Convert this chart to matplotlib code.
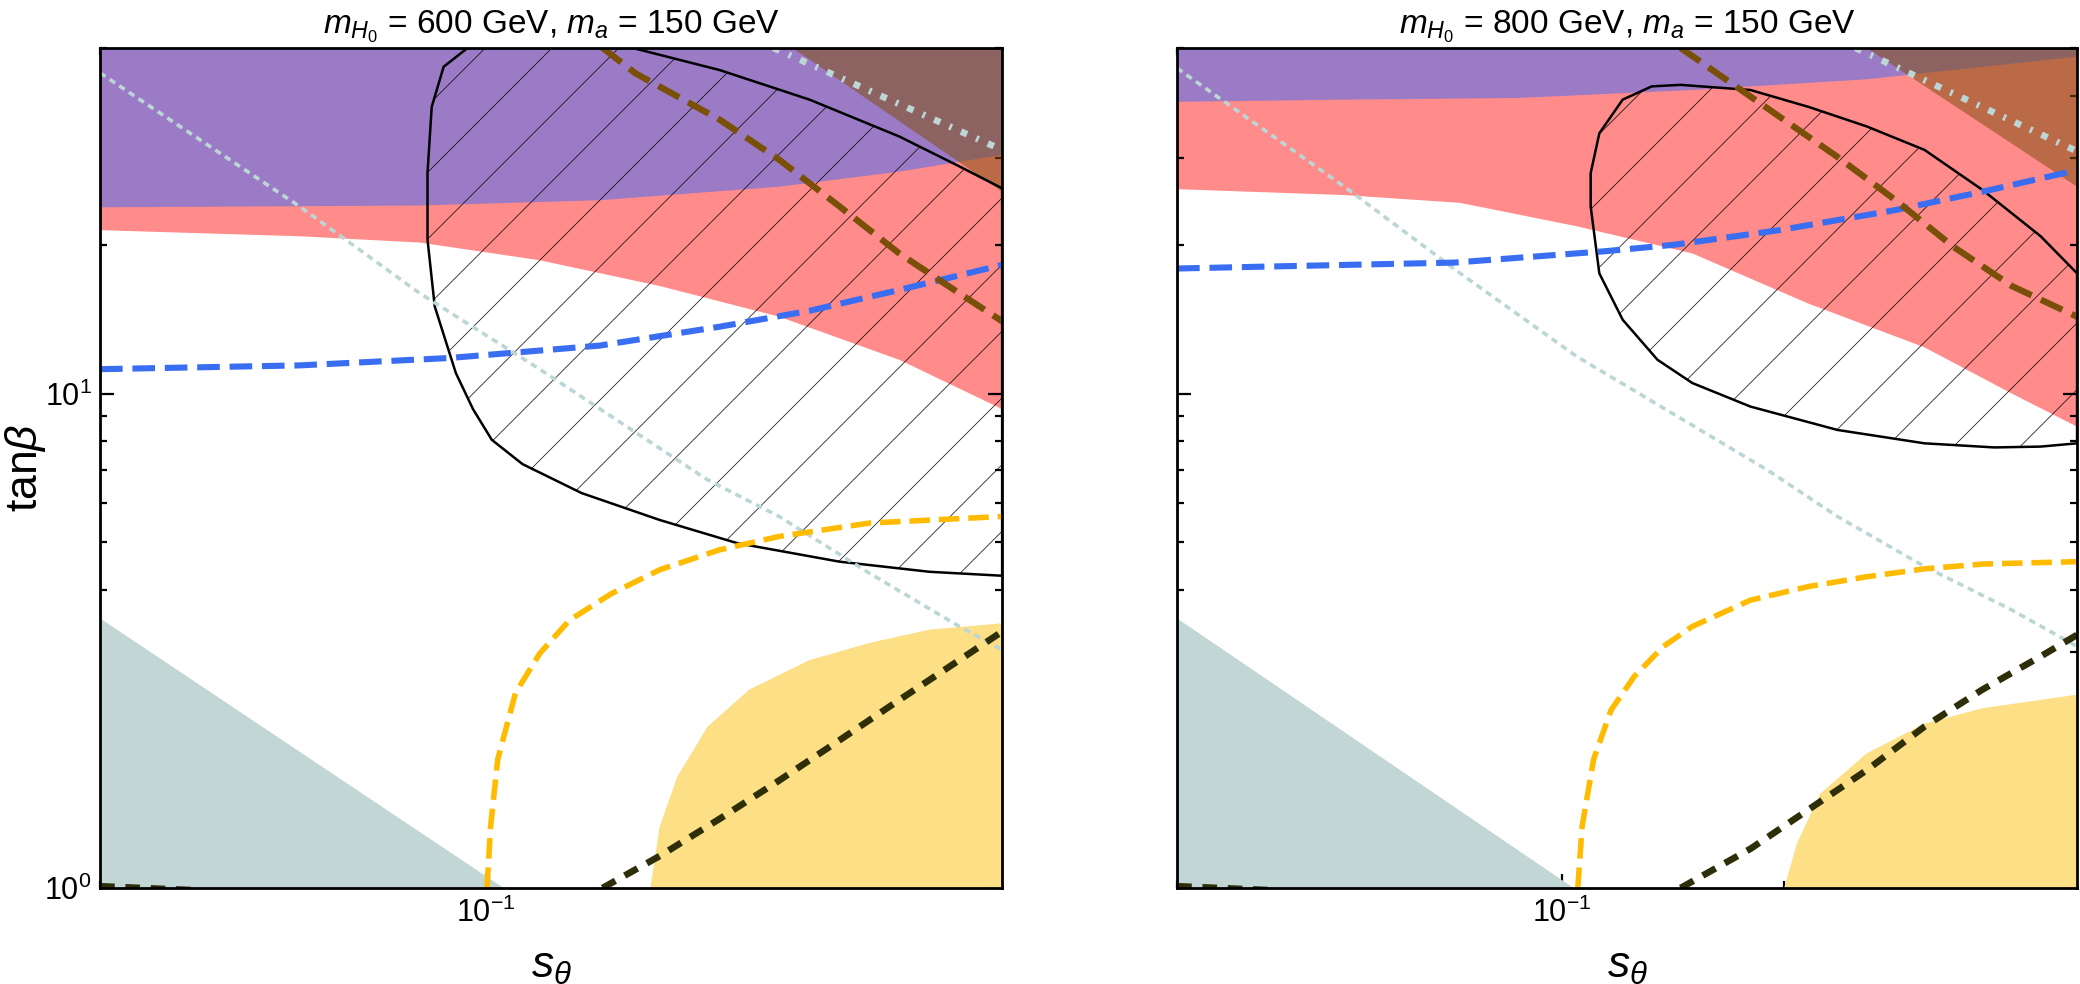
#!/usr/bin/env python3

import numpy as np
import matplotlib
matplotlib.use('Agg')
import matplotlib.pyplot as plt
from matplotlib.ticker import NullFormatter

plt.rcParams['font.family'] = ['Liberation Sans', 'DejaVu Sans']
plt.rcParams['mathtext.fontset'] = 'custom'
plt.rcParams['mathtext.rm'] = 'Liberation Sans'
plt.rcParams['mathtext.it'] = 'Liberation Sans:italic'
plt.rcParams['mathtext.bf'] = 'Liberation Sans:bold'
plt.rcParams['hatch.linewidth'] = 0.25

# Axis ranges (log-log)
x_range = (0.03, 0.5)
y_range = (1.0, 50.0)
titles = [r'$m_{H_0}$ = 600 GeV, $m_a$ = 150 GeV',
          r'$m_{H_0}$ = 800 GeV, $m_a$ = 150 GeV']

# ---- left panel: mH0 = 600 GeV, points are (s_theta, tan beta) ----
purple_600 = [(0.03, 23.8), (0.0813, 24.0), (0.1425, 24.6), (0.2495, 26.2),
              (0.3628, 28.1), (0.5, 30.4)]
red_600 = [(0.03, 21.4), (0.0559, 20.8), (0.0813, 20.2), (0.1182, 18.6),
           (0.1718, 16.5), (0.2495, 14.3), (0.3628, 11.7), (0.5, 9.3)]
brown_600 = [(0.26, 50.0), (0.5, 25.6)]
contour_600 = [(0.0944, 50.0), (0.0876, 45.8), (0.0844, 38.0), (0.0833, 27.9),
               (0.0833, 20.5), (0.0852, 15.0), (0.0910, 11.0), (0.0960, 9.3),
               (0.1018, 8.06), (0.112, 7.2), (0.1347, 6.29), (0.1718, 5.55),
               (0.219, 4.98), (0.3011, 4.57), (0.3985, 4.36), (0.5, 4.28),
               (0.5, 26.0), (0.4375, 28.8), (0.3628, 33.1), (0.2742, 39.3),
               (0.2072, 45.1), (0.1579, 50.0)]
blue_600 = [(0.03, 11.2), (0.0559, 11.4), (0.0893, 11.8), (0.1425, 12.5),
            (0.2072, 13.65), (0.2742, 14.7), (0.3628, 16.2), (0.5, 18.2)]
brownline_600 = [(0.1438, 50.0), (0.1594, 44.4), (0.2072, 35.8), (0.2495, 29.7),
                 (0.3011, 23.9), (0.3628, 19.2), (0.4375, 15.95), (0.5, 14.0)]
dotted_600 = [(0.03, 44.5), (0.0559, 23.9), (0.0813, 15.95), (0.1182, 11.2),
              (0.1995, 6.69), (0.2495, 5.64), (0.3306, 4.33), (0.4375, 3.38),
              (0.5, 3.03)]
dashdot_600 = [(0.245, 50.0), (0.5, 31.1)]
orange_600 = [(0.1003, 1.0), (0.1014, 1.33), (0.1037, 1.82), (0.1096, 2.48),
              (0.1182, 2.98), (0.1297, 3.48), (0.1479, 3.94), (0.1718, 4.40),
              (0.2072, 4.83), (0.2495, 5.14), (0.3306, 5.47), (0.5, 5.64)]
olive_600 = [(0.1438, 1.0), (0.1718, 1.16), (0.2072, 1.38), (0.2495, 1.65),
             (0.3011, 1.99), (0.3628, 2.40), (0.4375, 2.89), (0.5, 3.3)]
olive_tail_600 = [(0.03, 1.008), (0.04, 0.99)]
yellow_600 = [(0.167, 1.0), (0.1718, 1.33), (0.1816, 1.68), (0.1995, 2.12),
              (0.2274, 2.52), (0.2742, 2.89), (0.3306, 3.13), (0.3985, 3.33),
              (0.5, 3.43)]
grey_600 = [(0.03, 3.51), (0.1056, 1.0)]

# ---- right panel: mH0 = 800 GeV ----
purple_800 = [(0.03, 38.9), (0.0506, 39.3), (0.0871, 39.6), (0.1502, 41.1),
              (0.2589, 43.2), (0.5, 48.0)]
red_800 = [(0.03, 25.9), (0.0506, 25.2), (0.0727, 24.3), (0.1045, 21.8),
           (0.1502, 19.2), (0.2159, 15.2), (0.3103, 12.4), (0.4076, 10.0),
           (0.5, 8.57)]
brown_800 = [(0.259, 50.0), (0.5, 26.2)]
contour_800 = [(0.1448, 42.1), (0.1801, 41.1), (0.2159, 38.0), (0.2589, 34.7),
               (0.3103, 31.1), (0.3721, 25.8), (0.4462, 20.8), (0.5, 17.5),
               (0.5, 7.93), (0.4462, 7.81), (0.3859, 7.78), (0.3103, 7.93),
               (0.2364, 8.44), (0.1801, 9.41), (0.1502, 10.5), (0.1347, 11.7),
               (0.1208, 14.1), (0.1123, 17.5), (0.1093, 23.9), (0.1093, 27.9),
               (0.1123, 33.6), (0.1208, 39.3), (0.1323, 41.8)]
blue_800 = [(0.03, 17.9), (0.0714, 18.4), (0.1144, 19.4), (0.1422, 20.0),
            (0.1972, 21.4), (0.2835, 23.5), (0.3721, 25.6), (0.5, 28.3)]
brownline_800 = [(0.1448, 50.0), (0.1645, 43.8), (0.1972, 36.3), (0.2364, 30.1),
                 (0.2835, 24.6), (0.3398, 19.8), (0.4076, 16.5), (0.5, 14.3)]
dotted_800 = [(0.03, 45.5), (0.0506, 26.2), (0.0727, 17.5), (0.1045, 11.9),
              (0.19, 7.0), (0.2364, 5.64), (0.3103, 4.47), (0.4076, 3.65),
              (0.5, 3.08)]
dashdot_800 = [(0.25, 50.0), (0.5, 30.9)]
orange_800 = [(0.105, 1.0), (0.1064, 1.33), (0.1103, 1.82), (0.1165, 2.29),
              (0.1253, 2.68), (0.1372, 3.08), (0.1502, 3.38), (0.1801, 3.82),
              (0.2159, 4.07), (0.2589, 4.26), (0.3103, 4.42), (0.3721, 4.52),
              (0.5, 4.57)]
olive_800 = [(0.1448, 1.0), (0.1801, 1.20), (0.2159, 1.44), (0.2589, 1.73),
             (0.3103, 2.12), (0.3721, 2.52), (0.4462, 2.94), (0.5, 3.25)]
olive_tail_800 = [(0.03, 1.008), (0.04, 0.99)]
yellow_800 = [(0.2001, 1.0), (0.2083, 1.23), (0.2239, 1.55), (0.2589, 1.87),
              (0.3103, 2.15), (0.3721, 2.31), (0.5, 2.46)]
grey_800 = [(0.03, 3.51), (0.1036, 1.0)]

# colours
c_purple = '#9b7bc5'
c_red = '#ff8b8b'
c_brown_fill = '#82500f'
c_grey = '#c2d6d5'
c_yellow = '#fddf86'
c_blue = '#3a6ef2'
c_orange = '#ffbb00'
c_olive = '#2e2e08'
c_brownline = '#7a5008'
c_light = '#bcd6d6'


def xy(points):
    arr = np.array(points)
    return arr[:, 0], arr[:, 1]


def region_above(ax, curve, color, **kw):
    # fill from the curve up to the top of the axes
    x, y = xy(curve)
    xs = np.concatenate([x, [x[-1], x[0]]])
    ys = np.concatenate([y, [y_range[1], y_range[1]]])
    ax.fill(xs, ys, color=color, lw=0, **kw)


def draw_panel(ax, p):
    region_above(ax, p['red'], c_red, zorder=1)
    region_above(ax, p['purple'], c_purple, zorder=2)
    bx, by = xy(p['brown'])
    ax.fill([bx[0], bx[1], bx[1]], [by[0], by[1], y_range[1]],
            color=c_brown_fill, alpha=0.55, lw=0, zorder=3)

    # excluded region (hatched) with black contour
    cx, cy = xy(p['contour'])
    ax.fill(cx, cy, facecolor='none', edgecolor='black', lw=0.9,
            hatch='/', zorder=4)

    gx, gy = xy(p['grey'])
    ax.fill([gx[0], gx[0], gx[1]], [y_range[0], gy[0], gy[1]],
            color=c_grey, lw=0, zorder=2)
    yx, yy = xy(p['yellow'])
    ax.fill(np.concatenate([yx, [x_range[1]]]), np.concatenate([yy, [y_range[0]]]),
            color=c_yellow, lw=0, zorder=2)

    ax.plot(*xy(p['dotted']), color=c_light, lw=1.3, ls=(0, (1.8, 1.4)), zorder=5)
    ax.plot(*xy(p['dashdot']), color=c_light, lw=2.4, ls=(0, (1.0, 1.5, 0.4, 1.5)),
            zorder=5)
    ax.plot(*xy(p['blue']), color=c_blue, lw=2.2, ls='--', zorder=6)
    ax.plot(*xy(p['brownline']), color=c_brownline, lw=2.3, ls='--', zorder=6)
    ax.plot(*xy(p['orange']), color=c_orange, lw=2.0, ls='--', zorder=6)
    ax.plot(*xy(p['olive']), color=c_olive, lw=2.4, ls=(0, (2.2, 1.6)), zorder=6)
    ax.plot(*xy(p['olive_tail']), color=c_olive, lw=2.4, ls=(0, (2.2, 1.6)), zorder=6)

    ax.set_xscale('log')
    ax.set_yscale('log')
    ax.set_xlim(*x_range)
    ax.set_ylim(*y_range)
    ax.xaxis.set_minor_formatter(NullFormatter())
    ax.yaxis.set_minor_formatter(NullFormatter())
    ax.tick_params(which='both', direction='in', top=True, right=True,
                   labelsize=11, width=0.8)
    ax.tick_params(which='major', length=5)
    ax.tick_params(which='minor', length=2.5)
    for s in ax.spines.values():
        s.set_linewidth(1.0)
        s.set_zorder(10)
    ax.set_xlabel(r'$s_\theta$', fontsize=16, labelpad=6)


panels = [
    dict(purple=purple_600, red=red_600, brown=brown_600, contour=contour_600,
         blue=blue_600, brownline=brownline_600, dotted=dotted_600,
         dashdot=dashdot_600, orange=orange_600, olive=olive_600,
         olive_tail=olive_tail_600, yellow=yellow_600, grey=grey_600),
    dict(purple=purple_800, red=red_800, brown=brown_800, contour=contour_800,
         blue=blue_800, brownline=brownline_800, dotted=dotted_800,
         dashdot=dashdot_800, orange=orange_800, olive=olive_800,
         olive_tail=olive_tail_800, yellow=yellow_800, grey=grey_800),
]

fig = plt.figure(figsize=(10.4, 4.92), dpi=200)
ax1 = fig.add_axes([0.0481, 0.0976, 0.4337, 0.8537])
ax2 = fig.add_axes([0.5659, 0.0976, 0.4327, 0.8537])

for ax, p, t in zip([ax1, ax2], panels, titles):
    draw_panel(ax, p)
    ax.set_title(t, fontsize=12, pad=5)

ax1.set_ylabel(r'tan$\beta$', fontsize=16)
ax1.yaxis.set_label_coords(-0.058, 0.5)
ax1.tick_params(axis='y', which='major', pad=3)
ax2.tick_params(axis='y', which='both', labelleft=False)

fig.savefig('out.png', dpi=200)
